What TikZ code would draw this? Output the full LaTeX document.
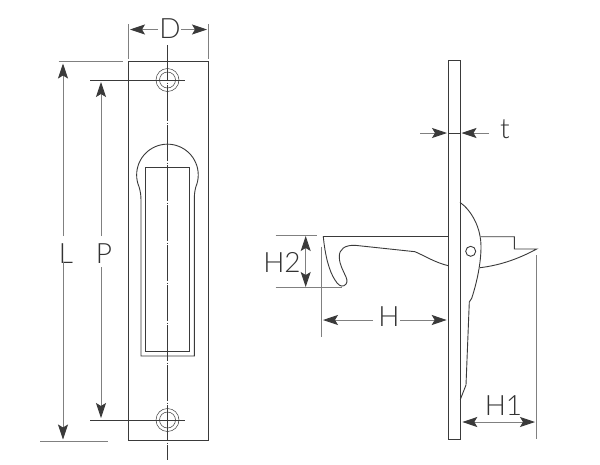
\documentclass[tikz,border=0pt]{standalone}
\usepackage{fontspec}
\setmainfont{Lato Light}
\usetikzlibrary{arrows.meta}
\definecolor{outline}{HTML}{3A3A3A}
\definecolor{dimline}{HTML}{808080}
\definecolor{txt}{HTML}{333333}
\tikzset{
  body/.style={draw=outline,line width=0.9pt,line join=miter},
  thin body/.style={draw=outline,line width=0.5pt},
  dimln/.style={draw=dimline,line width=0.9pt},
  dimarrow/.style={dimln,-{Stealth[length=15pt,width=10pt,inset=3pt,color=outline]}},
  centre/.style={draw=outline,line width=0.6pt,dash pattern=on 36pt off 1.5pt on 1pt off 1.5pt},
  axisln/.style={draw=outline,line width=0.6pt},
  lab/.style={text=txt,inner sep=0pt,font=\fontsize{28}{28}\selectfont}
}
\begin{document}
\begin{tikzpicture}[x=1pt,y=-1pt]
\useasboundingbox[fill=white] (0,0) rectangle (600,464);
% front view
\draw[body] (128.3,61) rectangle (208.7,440);
\draw[thin body] (167.5,80) circle[radius=11.5];
\draw[thin body] (167.5,80) circle[radius=8];
\draw[thin body] (167.5,420) circle[radius=11.5];
\draw[thin body] (167.5,420) circle[radius=8];
\draw[body] (141,356) -- (141,201) .. controls (141,195) and (140.5,192) .. (139.1,187)
  arc[start angle=157,end angle=383,radius=30.8]
  .. controls (194.5,192) and (194.3,195) .. (194.3,201) -- (194.3,356) -- cycle;
\draw[body] (145.7,167.3) rectangle (189.7,351.3);
\draw[centre] (167.5,45) -- (167.5,460);
\draw[axisln] (90,80) -- (185,80);
\draw[axisln] (90,420) -- (185,420);
% front view dimensions
\draw[dimln] (128.3,24) -- (128.3,59);
\draw[dimln] (208.7,24) -- (208.7,59);
\node[lab] (D) at (170,28.5) {D};
\coordinate (Dl) at (158,29.5);
\coordinate (Dr) at (181,29.5);
\draw[dimarrow] (Dl) -- (130,29.5);
\draw[dimarrow] (Dr) -- (207,29.5);
\draw[dimln] (58.7,61.7) -- (123,61.7);
\draw[dimln] (40,441) -- (108,441);
\node[lab] (L) at (66,253.5) {L};
\draw[dimarrow] (63,236) -- (63,63.5);
\draw[dimarrow] (63,262) -- (63,439.5);
\node[lab] (P) at (104,253.5) {P};
\draw[dimarrow] (101,236) -- (101,82);
\draw[dimarrow] (101,267) -- (101,418);
% side view plate
\draw[body] (448.3,60.3) rectangle (460,439.7);
\draw[axisln] (448.3,133) -- (460,133);
% lever
\draw[body] (448.3,236.5) -- (323.3,236.5)
  .. controls (325,255) and (329,271) .. (335,280)
  .. controls (338,285) and (341,287) .. (344,285.7)
  .. controls (347.5,284) and (347.5,280.5) .. (346,277)
  .. controls (343,270) and (339.5,265) .. (339.3,257)
  .. controls (339,249) and (345,245) .. (355,245.3)
  -- (415,251.7) .. controls (425,256) and (435,262.5) .. (448.3,265.7);
% latch
\draw[body] (460,202.3) .. controls (472,211) and (481,228) .. (481,246.7)
  .. controls (481,263) and (477,282) .. (471.7,298.3)
  -- (469.3,302) -- (466,385) -- (460.3,399.5);
\draw[body] (481,236.7) -- (514.3,236.7) -- (514.3,249) -- (536.7,249)
  .. controls (520,258) and (502,265) .. (480,267.7);
\draw[body] (470.7,251.3) circle[radius=5];
% side view dimensions
\node[lab] (t) at (505,129.5) {t};
\coordinate (tl) at (420,133);
\coordinate (tr) at (489,133);
\draw[dimarrow] (tl) -- (447,133);
\draw[dimarrow] (tr) -- (461.5,133);
\draw[dimln] (275.7,235) -- (317.3,235);
\draw[dimln] (275.7,287.7) -- (341.7,287.7);
\node[lab] (H2) at (282,262) {H2};
\coordinate (H2m) at (305.7,261);
\draw[dimarrow] (H2m) -- (305.7,236);
\draw[dimarrow] (H2m) -- (305.7,287);
\draw[dimln] (321.3,246.7) -- (321.3,336.7);
\node[lab] (H) at (389,317) {H};
\draw[dimarrow] (373,320) -- (323,320);
\draw[dimarrow] (400,320) -- (446.7,320);
\draw[dimln] (536,255) -- (536,439);
\node[lab] (H1) at (503.5,405.5) {H1};
\coordinate (H1m) at (500,422);
\draw[dimarrow] (H1m) -- (462.3,422);
\draw[dimarrow] (H1m) -- (535,422);
\end{tikzpicture}
\end{document}
